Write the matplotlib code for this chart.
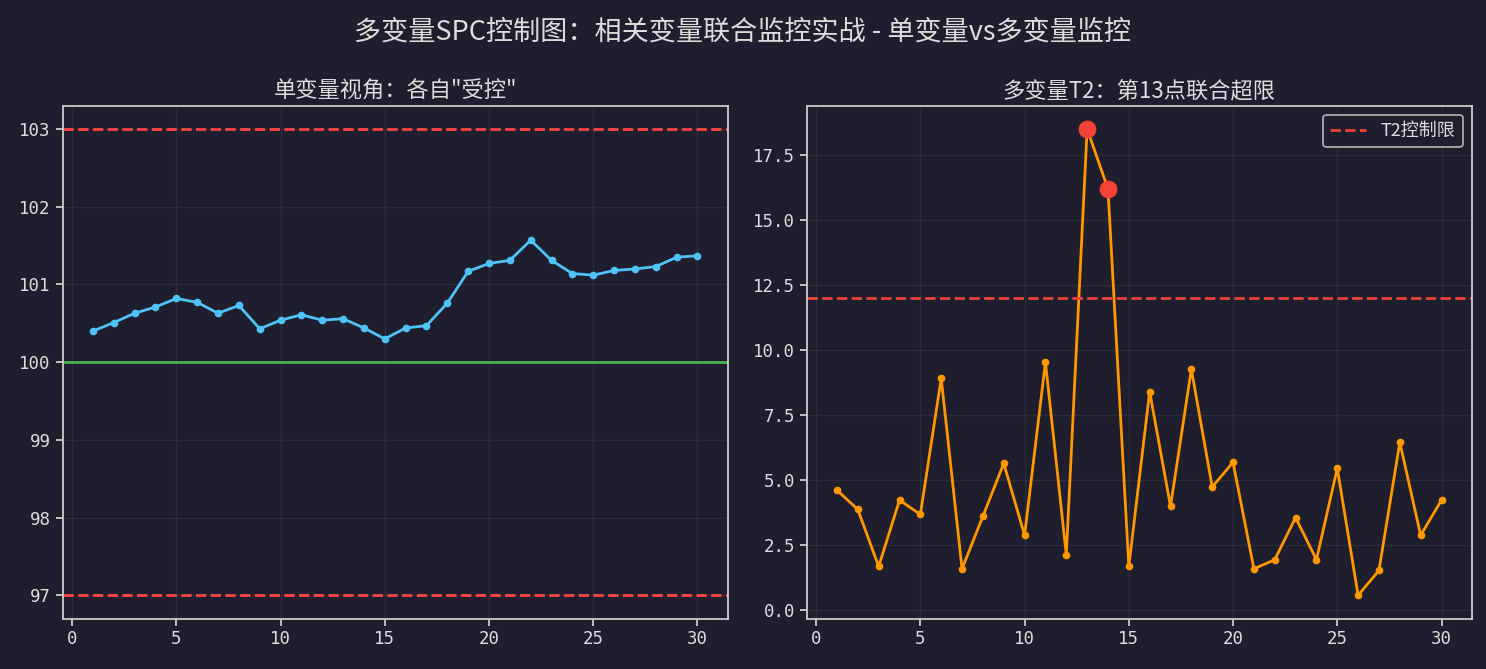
import matplotlib
matplotlib.use("Agg")
import matplotlib.pyplot as plt

# 刻度数字用等宽字体；标题用 Noto Sans CJK（保证全角冒号）
plt.rcParams['font.family'] = ['DejaVu Sans Mono', 'Noto Sans CJK SC']
plt.rcParams['axes.unicode_minus'] = False
CJK = ['Noto Sans CJK SC', 'DejaVu Sans']

BG = "#1e1e2e"
FG = "#dddddd"

samples = list(range(1, 31))

# 单变量（变量1）读数
x1_values = [100.40, 100.51, 100.63, 100.71, 100.82, 100.77, 100.63, 100.73, 100.43, 100.54,
             100.61, 100.54, 100.56, 100.44, 100.30, 100.44, 100.47, 100.76, 101.17, 101.27,
             101.31, 101.57, 101.31, 101.14, 101.12, 101.18, 101.20, 101.23, 101.35, 101.37]
x1_center = 100
x1_ucl = 103
x1_lcl = 97

# Hotelling T2
t2_values = [4.62, 3.88, 1.69, 4.24, 3.69, 8.92, 1.60, 3.62, 5.65, 2.89,
             9.54, 2.14, 18.50, 16.20, 1.69, 8.41, 4.00, 9.27, 4.75, 5.69,
             1.60, 1.95, 3.57, 1.95, 5.46, 0.58, 1.54, 6.46, 2.89, 4.24]
t2_limit = 12.0


def style_axes(ax):
    ax.set_facecolor(BG)
    for s in ax.spines.values():
        s.set_color("#cccccc")
        s.set_linewidth(1.3)
    ax.tick_params(colors="#cccccc", labelcolor=FG, labelsize=12.5, width=1.3, length=5)
    ax.grid(True, color="white", alpha=0.06, linewidth=1)


fig = plt.figure(figsize=(14.86, 6.69), dpi=100)
fig.patch.set_facecolor(BG)

ax1 = fig.add_axes([0.0422, 0.0752, 0.4475, 0.7668])
ax2 = fig.add_axes([0.5429, 0.0752, 0.4475, 0.7668])

# 左图：单变量
style_axes(ax1)
ax1.plot(samples, x1_values, color="#4fc3f7", linewidth=2, marker="o", markersize=4.5)
ax1.axhline(x1_center, color="#4caf50", linewidth=2)
ax1.axhline(x1_ucl, color="#ff4444", linestyle="--", linewidth=2)
ax1.axhline(x1_lcl, color="#ff4444", linestyle="--", linewidth=2)
ax1.set_title('单变量视角：各自"受控"', color=FG, fontsize=16, pad=6, family=CJK)

# 右图：T2
style_axes(ax2)
ax2.plot(samples, t2_values, color="#ff9800", linewidth=2, marker="o", markersize=4.5)
ax2.axhline(t2_limit, color="#f44336", linestyle="--", linewidth=2, label="T2控制限")
out_x = [s for s, v in zip(samples, t2_values) if v > t2_limit]
out_y = [v for v in t2_values if v > t2_limit]
ax2.scatter(out_x, out_y, color="#f44336", s=140, zorder=5)
ax2.set_title("多变量T2：第13点联合超限", color=FG, fontsize=16, pad=6, family=CJK)
leg = ax2.legend(loc="upper right", facecolor=BG, edgecolor="#aaaaaa", framealpha=1,
                 prop={'family': CJK, 'size': 13})
leg.get_frame().set_linewidth(1.3)
for t in leg.get_texts():
    t.set_color(FG)

fig.suptitle("多变量SPC控制图：相关变量联合监控实战 - 单变量vs多变量监控",
             color=FG, fontsize=19.5, y=0.972, family=CJK)

fig.savefig("out.png", dpi=100, facecolor=BG)
